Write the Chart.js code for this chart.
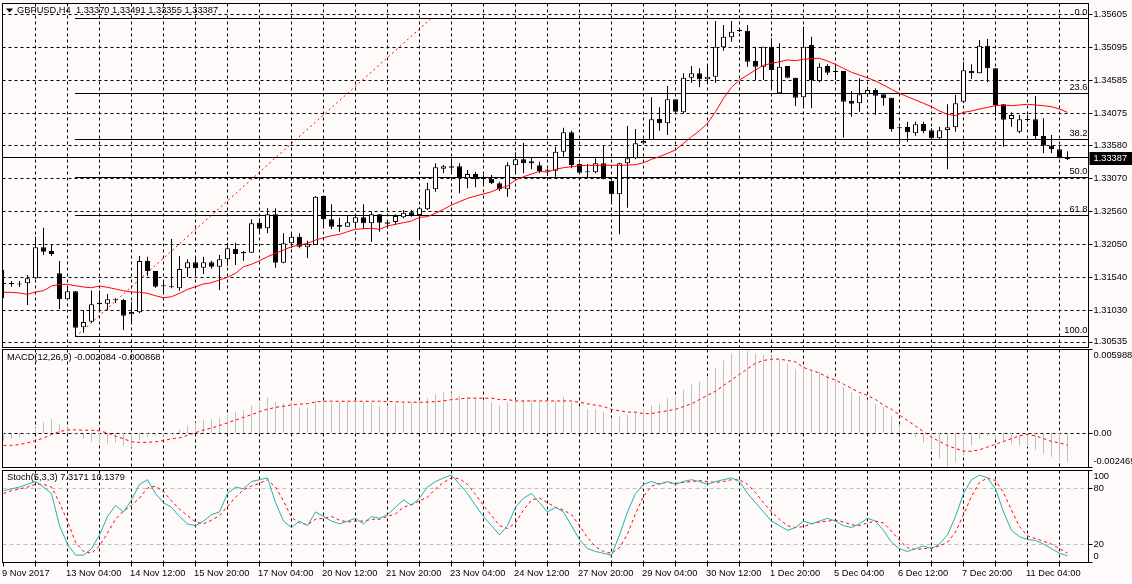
<!DOCTYPE html>
<html>
<head>
<meta charset="utf-8">
<script src="https://cdn.jsdelivr.net/npm/chart.js@4.4.1/dist/chart.umd.min.js"></script>
<style>
  html, body { margin: 0; padding: 0; background: #fffafa; }
  #wrap { position: relative; width: 1132px; height: 584px; overflow: hidden; background: #fffafa; }
  #wrap canvas { position: absolute; left: 0; }
</style>
</head>
<body>
<div id="wrap">
  <canvas id="price" width="1132" height="348" style="top:0"></canvas>
  <canvas id="macd" width="1132" height="124" style="top:346px"></canvas>
  <canvas id="stoch" width="1132" height="116" style="top:468px"></canvas>
</div>
<script>
// GBPUSD H4, one entry per bar (9 Nov 20:00 .. 12 Dec 00:00)
const openP = [
  1.31457,1.31446,1.31441,1.31452,1.31529,1.32008,1.31951,1.31606,1.31205,1.31328,
  1.30772,1.30859,1.31152,1.31137,1.31205,1.31194,1.30973,1.31004,1.31796,1.31642,
  1.31415,1.31390,1.31375,1.31683,1.31776,1.31693,1.31776,1.31708,1.31822,1.31981,
  1.31935,1.31924,1.32388,1.32301,1.32517,1.31770,1.32069,1.32171,1.32008,1.32043,
  1.32800,1.32440,1.32352,1.32326,1.32388,1.32471,1.32378,1.32517,1.32394,1.32398,
  1.32471,1.32548,1.32506,1.32594,1.32903,1.33221,1.33258,1.33258,1.33073,1.33139,
  1.33067,1.33067,1.32996,1.32903,1.33274,1.33366,1.33305,1.33274,1.33201,1.33190,
  1.33484,1.33783,1.33294,1.33171,1.33165,1.33305,1.33036,1.32826,1.33305,1.33382,
  1.33613,1.33664,1.33989,1.33922,1.34293,1.34092,1.34626,1.34694,1.34602,1.34642,
  1.35096,1.35250,1.35358,1.35352,1.34884,1.34796,1.35105,1.34385,1.34807,1.34626,
  1.34324,1.35131,1.34575,1.34807,1.34719,1.34730,1.34267,1.34231,1.34370,1.34436,
  1.34370,1.34317,1.33845,1.33865,1.33768,1.33911,1.33814,1.33691,1.33819,1.33860,
  1.34256,1.34730,1.34694,1.35120,1.34771,1.34216,1.33989,1.33793,1.33978,1.33984,
  1.33726,1.33576,1.33521,1.33370
];
const highP = [
  1.31657,1.31487,1.31487,1.31580,1.32172,1.32310,1.32043,1.31796,1.31375,1.31333,
  1.31040,1.31342,1.31342,1.31287,1.31220,1.31209,1.31168,1.31873,1.31862,1.31642,
  1.31467,1.32136,1.31873,1.31822,1.31862,1.31862,1.31801,1.31889,1.32079,1.32079,
  1.31950,1.32440,1.32455,1.32610,1.32610,1.32224,1.32224,1.32224,1.32110,1.32800,
  1.32800,1.32672,1.32465,1.32491,1.32491,1.32672,1.32557,1.32517,1.32429,1.32517,
  1.32584,1.32584,1.32635,1.33005,1.33305,1.33278,1.33382,1.33305,1.33201,1.33175,
  1.33124,1.33124,1.33020,1.33320,1.33474,1.33623,1.33391,1.33330,1.33221,1.33561,
  1.33854,1.33808,1.33305,1.33294,1.33382,1.33587,1.33036,1.33314,1.33881,1.33834,
  1.33664,1.34324,1.34169,1.34498,1.34293,1.34694,1.34807,1.34771,1.34838,1.35502,
  1.35440,1.35502,1.35363,1.35440,1.35105,1.35105,1.35235,1.35157,1.34807,1.34626,
  1.35414,1.35259,1.34849,1.34833,1.34812,1.34730,1.34421,1.34617,1.34487,1.34463,
  1.34370,1.34317,1.33870,1.33947,1.33947,1.33947,1.33845,1.33870,1.34216,1.34359,
  1.34873,1.34833,1.35208,1.35224,1.34771,1.34216,1.34092,1.34050,1.34050,1.34344,
  1.34000,1.33742,1.33576,1.33491
];
const lowP = [
  1.31225,1.31400,1.31395,1.31117,1.31518,1.31889,1.31873,1.31055,1.31194,1.30627,
  1.30689,1.30839,1.31040,1.31040,1.31148,1.30731,1.30850,1.30989,1.31565,1.31384,
  1.31307,1.31375,1.31338,1.31549,1.31591,1.31596,1.31677,1.31348,1.31724,1.31734,
  1.31801,1.31924,1.32224,1.32224,1.31693,1.31761,1.31992,1.31992,1.31842,1.32043,
  1.32306,1.32290,1.32249,1.32326,1.32301,1.32290,1.32094,1.32249,1.32326,1.32352,
  1.32455,1.32480,1.32147,1.32584,1.32866,1.33150,1.33175,1.32841,1.32919,1.32934,
  1.32985,1.32985,1.32877,1.32789,1.33139,1.33150,1.33212,1.33150,1.33109,1.33098,
  1.33407,1.33227,1.33150,1.33082,1.33150,1.33058,1.32696,1.32208,1.32619,1.33366,
  1.33603,1.33664,1.33808,1.33742,1.34066,1.34077,1.34549,1.34478,1.34529,1.34549,
  1.35043,1.35182,1.35332,1.34796,1.34591,1.34591,1.34463,1.34385,1.34617,1.34189,
  1.34179,1.34154,1.34555,1.34668,1.34591,1.33700,1.34024,1.34101,1.34333,1.34050,
  1.34194,1.33793,1.33638,1.33638,1.33731,1.33768,1.33664,1.33680,1.33212,1.33793,
  1.34231,1.34606,1.34694,1.34555,1.34040,1.33561,1.33870,1.33768,1.33947,1.33664,
  1.33459,1.33459,1.33382,1.33355
];
const closeP = [
  1.31441,1.31440,1.31435,1.31529,1.32008,1.31940,1.31904,1.31205,1.31328,1.30766,
  1.30854,1.31128,1.31128,1.31205,1.31190,1.30952,1.31009,1.31796,1.31642,1.31400,
  1.31406,1.31400,1.31673,1.31776,1.31683,1.31776,1.31708,1.31822,1.31992,1.31904,
  1.31915,1.32378,1.32295,1.32517,1.31770,1.32069,1.32171,1.32017,1.32054,1.32789,
  1.32440,1.32326,1.32326,1.32394,1.32471,1.32378,1.32517,1.32388,1.32372,1.32491,
  1.32542,1.32506,1.32610,1.32903,1.33243,1.33258,1.33237,1.33073,1.33139,1.33058,
  1.33062,1.32996,1.32903,1.33274,1.33366,1.33305,1.33335,1.33186,1.33190,1.33484,
  1.33783,1.33278,1.33160,1.33165,1.33305,1.33058,1.32826,1.33305,1.33382,1.33613,
  1.33649,1.33984,1.33922,1.34293,1.34101,1.34626,1.34694,1.34602,1.34642,1.35105,
  1.35259,1.35337,1.35347,1.34873,1.34796,1.35105,1.34745,1.34796,1.34626,1.34317,
  1.35105,1.34591,1.34796,1.34703,1.34714,1.34256,1.34225,1.34370,1.34436,1.34348,
  1.34308,1.33834,1.33854,1.33783,1.33907,1.33803,1.33691,1.33814,1.33860,1.34231,
  1.34741,1.34694,1.35120,1.34771,1.34205,1.33978,1.34050,1.33984,1.33973,1.33726,
  1.33576,1.33521,1.33382,1.33387
];
// red moving average on the price window
const maLine = [
  1.31313,1.31313,1.31302,1.31282,1.31318,1.31338,1.31410,1.31436,1.31436,1.31415,
  1.31395,1.31384,1.31410,1.31390,1.31364,1.31338,1.31318,1.31313,1.31297,1.31260,
  1.31230,1.31245,1.31297,1.31359,1.31399,1.31441,1.31461,1.31503,1.31545,1.31606,
  1.31708,1.31745,1.31801,1.31863,1.31915,1.31966,1.32017,1.32043,1.32069,1.32120,
  1.32156,1.32187,1.32208,1.32249,1.32286,1.32295,1.32301,1.32286,1.32337,1.32363,
  1.32388,1.32414,1.32471,1.32480,1.32533,1.32594,1.32661,1.32712,1.32764,1.32800,
  1.32831,1.32866,1.32919,1.32954,1.33047,1.33098,1.33139,1.33181,1.33170,1.33212,
  1.33237,1.33252,1.33268,1.33274,1.33274,1.33274,1.33274,1.33274,1.33278,1.33283,
  1.33314,1.33366,1.33407,1.33459,1.33510,1.33613,1.33715,1.33808,1.33922,1.34101,
  1.34308,1.34478,1.34591,1.34668,1.34745,1.34818,1.34849,1.34873,1.34900,1.34889,
  1.34910,1.34923,1.34926,1.34884,1.34833,1.34771,1.34710,1.34668,1.34626,1.34575,
  1.34514,1.34447,1.34385,1.34333,1.34282,1.34231,1.34179,1.34112,1.34061,1.34040,
  1.34092,1.34112,1.34143,1.34169,1.34194,1.34205,1.34194,1.34205,1.34216,1.34205,
  1.34194,1.34179,1.34143,1.34092
];
const macdHist = [
  -0.00057,-0.00041,-0.00029,-0.0001,0.00036,0.00078,0.00101,0.00062,0.00036,-0.00016,
  -0.00041,-0.00062,-0.00075,-0.00075,-0.0007,-0.00088,-0.00104,-0.00049,-0.0003,-0.0002,
  -0.0002,-0.0001,0.00026,0.00054,0.00073,0.00093,0.00099,0.00109,0.00135,0.0015,
  0.00161,0.00197,0.00218,0.00254,0.00223,0.0021,0.0021,0.00184,0.00184,0.00228,
  0.00223,0.00218,0.00223,0.00223,0.00218,0.00223,0.00218,0.00197,0.0020,0.0021,
  0.0022,0.0022,0.0022,0.0025,0.0028,0.0029,0.0029,0.0027,0.0026,0.0025,
  0.0024,0.0022,0.0020,0.0022,0.0024,0.0024,0.0024,0.0022,0.0021,0.0023,
  0.0026,0.0022,0.0019,0.0017,0.0017,0.0015,0.0011,0.0012,0.0013,0.0015,
  0.0017,0.0020,0.0021,0.0025,0.0026,0.0031,0.0035,0.0037,0.0041,0.0047,
  0.0052,0.0057,0.005988,0.0059,0.0057,0.0056,0.0055,0.0053,0.0050,0.0046,
  0.0048,0.0045,0.0044,0.0042,0.0039,0.0033,0.0029,0.0027,0.0024,0.0021,
  0.0019,0.0012,0.0006,0.0001,-0.0003,-0.0007,-0.0011,-0.0018,-0.002469,-0.0021,
  -0.0015,-0.0009,-0.0004,-0.0002,-0.0004,-0.0007,-0.0008,-0.0009,-0.0010,-0.0012,
  -0.0015,-0.0017,-0.0020,-0.002084
];
const macdSignal = [
  -0.00088,-0.00088,-0.00083,-0.0007,-0.00054,-0.00036,-0.0001,0.0001,0.00023,0.00023,
  0.0002,0.0002,0.00016,0.0,-0.00023,-0.00041,-0.00062,-0.00067,-0.00067,-0.00062,
  -0.00054,-0.00041,-0.00034,-0.00016,0.00003,0.00021,0.00036,0.00054,0.00073,0.00093,
  0.00112,0.00132,0.00153,0.00171,0.00184,0.00192,0.00202,0.00207,0.0021,0.00223,
  0.00228,0.00228,0.00228,0.00228,0.00228,0.00228,0.00228,0.00228,0.00226,0.00224,
  0.00222,0.00221,0.0022,0.00222,0.00225,0.0023,0.0024,0.00245,0.0025,0.0025,
  0.0025,0.0025,0.0024,0.0024,0.0023,0.0023,0.0023,0.0023,0.0023,0.0023,
  0.0023,0.0023,0.0022,0.0021,0.0020,0.0019,0.0017,0.0016,0.0015,0.0015,
  0.0014,0.0014,0.0015,0.0016,0.0017,0.0019,0.0021,0.0024,0.0027,0.0030,
  0.0034,0.0038,0.0042,0.0046,0.0050,0.0052,0.0053,0.0053,0.0052,0.0051,
  0.0047,0.0045,0.0043,0.0040,0.0038,0.0035,0.0032,0.0029,0.0027,0.0024,
  0.0020,0.0017,0.0013,0.0009,0.0005,0.0001,-0.0003,-0.0006,-0.0009,-0.0011,
  -0.0013,-0.0013,-0.0012,-0.0010,-0.0008,-0.0006,-0.0004,-0.0002,-0.0001,-0.0002,
  -0.0004,-0.0006,-0.0007,-0.000868
];
const stochMain = [
  78,80,82,85,88,82,75,40,20,8,
  8,15,30,50,62,55,68,85,90,75,
  65,60,50,42,40,45,52,55,75,82,
  80,88,90,92,65,45,38,45,40,55,
  50,45,42,45,48,42,50,48,52,60,
  68,62,70,82,88,92,95,85,75,62,
  50,40,30,40,60,70,75,65,55,60,
  55,40,25,15,12,10,8,30,55,75,
  85,88,85,88,85,88,90,88,85,88,
  90,92,88,75,65,55,45,40,35,38,
  45,42,45,48,45,40,38,42,48,45,
  35,22,15,12,15,18,15,20,30,50,
  75,90,95,92,80,55,35,28,25,24,
  20,15,10,7.3171
];
const stochSignal = [
  75,78,80,82,85,85,82,65,45,22,
  12,10,18,32,47,56,62,70,81,83,
  77,67,58,51,44,42,46,51,61,71,
  79,83,86,90,82,67,49,43,41,47,
  48,50,46,44,45,45,47,47,50,53,
  60,63,67,71,80,87,92,91,85,74,
  62,51,40,37,43,57,68,70,65,60,
  57,52,40,27,17,12,10,16,31,53,
  72,83,86,87,86,87,88,89,88,87,
  88,90,90,85,76,65,55,47,40,38,
  39,42,44,45,46,44,41,40,43,45,
  43,34,24,16,14,15,16,18,22,33,
  52,72,87,92,89,76,57,39,29,26,
  23,20,15,10.1379
];
// one time label every 8 bars
const dateLabels = [
  '9 Nov 2017','13 Nov 04:00','14 Nov 12:00','15 Nov 20:00','17 Nov 04:00','20 Nov 12:00',
  '21 Nov 20:00','23 Nov 04:00','24 Nov 12:00','27 Nov 20:00','29 Nov 04:00','30 Nov 12:00',
  '1 Dec 20:00','5 Dec 04:00','6 Dec 12:00','7 Dec 20:00','11 Dec 04:00'
];
const priceTicks = [1.35605,1.35095,1.34585,1.34075,1.33580,1.33070,1.32560,1.32050,1.31540,1.31030,1.30535];
const macdTicks = [0.005988, 0, -0.002469];
const stochTicks = [100, 80, 20, 0];
const stochLevels = [80, 20];
// fibonacci retracement drawn on the chart
const fibLevels = [0, 23.6, 38.2, 50, 61.8, 100];
const fibHigh = 1.35545, fibLow = 1.30625;
const fibAnchors = [9, 53.5];

const X_MIN = -0.125, X_MAX = 135.625;
const FONT = '9.3px "Liberation Sans"';
const N = closeP.length;

const snap = (p) => Math.floor(p) + 0.5;
function seg(ctx, x1, y1, x2, y2) {
  ctx.beginPath(); ctx.moveTo(x1, y1); ctx.lineTo(x2, y2); ctx.stroke();
}

function panelPlugin(cfg) {
  return {
    id: 'panel_' + cfg.name,
    beforeDatasetsDraw(chart) {
      const { ctx, chartArea: a } = chart;
      const x = chart.scales.x, y = chart.scales.y;
      ctx.save();
      ctx.beginPath(); ctx.rect(a.left, a.top, a.right - a.left, a.bottom - a.top); ctx.clip();
      ctx.lineWidth = 1;
      ctx.strokeStyle = '#000';
      ctx.setLineDash([3, 3]);
      for (let i = 4; i < X_MAX; i += 4) {
        const px = snap(x.getPixelForValue(i));
        seg(ctx, px, a.top, px, a.bottom);
      }
      (cfg.grid || []).forEach((v) => {
        const py = snap(y.getPixelForValue(v));
        seg(ctx, a.left, py, a.right, py);
      });
      if (cfg.levels) {
        ctx.strokeStyle = '#c0c0c0';
        ctx.setLineDash([4, 3]);
        cfg.levels.forEach((v) => {
          const py = snap(y.getPixelForValue(v));
          seg(ctx, a.left, py, a.right, py);
        });
      }
      if (cfg.fib) {
        ctx.setLineDash([]);
        ctx.strokeStyle = '#000';
        // bid line
        const by = snap(y.getPixelForValue(closeP[N - 1]));
        seg(ctx, a.left, by, a.right, by);
        const fx = Math.floor(x.getPixelForValue(fibAnchors[0]));
        fibLevels.forEach((lv) => {
          const py = snap(y.getPixelForValue(fibHigh - (fibHigh - fibLow) * lv / 100));
          seg(ctx, fx, py, a.right, py);
        });
        ctx.strokeStyle = '#ff0000';
        ctx.setLineDash([2, 3]);
        seg(ctx, x.getPixelForValue(fibAnchors[0]), y.getPixelForValue(fibLow),
                 x.getPixelForValue(fibAnchors[1]), y.getPixelForValue(fibHigh));
      }
      ctx.restore();
    },
    afterDraw(chart) {
      const { ctx, chartArea: a } = chart;
      const x = chart.scales.x, y = chart.scales.y;
      ctx.save();
      ctx.lineWidth = 1;
      ctx.setLineDash([]);
      ctx.strokeStyle = '#000';
      ctx.strokeRect(a.left, a.top, a.right - a.left, a.bottom - a.top);
      ctx.font = FONT;
      ctx.fillStyle = '#000';
      ctx.textBaseline = 'middle';
      ctx.textAlign = 'left';
      // right scale
      cfg.ticks.forEach((t) => {
        const py = y.getPixelForValue(t.v);
        seg(ctx, a.right, snap(py), a.right + 4, snap(py));
        const ty = Math.min(Math.max(py, a.top + 6), a.bottom - 6);
        ctx.fillText(t.text, a.right + 5, ty);
      });
      // window caption
      if (cfg.title) {
        if (cfg.name === 'price') {
          ctx.beginPath(); ctx.moveTo(6, 8.5); ctx.lineTo(13, 8.5); ctx.lineTo(9.5, 12.5); ctx.closePath(); ctx.fill();
        }
        ctx.fillText(cfg.title, cfg.titleX, a.top + cfg.titleDy);
      }
      if (cfg.fib) {
        ctx.textAlign = 'right';
        ctx.textBaseline = 'bottom';
        fibLevels.forEach((lv) => {
          const py = snap(y.getPixelForValue(fibHigh - (fibHigh - fibLow) * lv / 100));
          ctx.fillText(lv.toFixed(1), a.right - 1, py - 1);
        });
        // current price box
        const by = y.getPixelForValue(closeP[N - 1]);
        ctx.fillStyle = '#000';
        ctx.fillRect(a.right + 1, Math.round(by) - 6, 1132 - a.right, 13);
        ctx.fillStyle = '#fff';
        ctx.textAlign = 'left';
        ctx.textBaseline = 'middle';
        ctx.fillText(closeP[N - 1].toFixed(5), a.right + 5, Math.round(by) + 0.5);
      }
      if (cfg.xAxis) {
        ctx.fillStyle = '#000';
        for (let i = 0; i < X_MAX; i += 4) {
          const px = snap(x.getPixelForValue(i));
          seg(ctx, px, a.bottom, px, a.bottom + 4);
        }
        ctx.textAlign = 'left';
        ctx.textBaseline = 'middle';
        dateLabels.forEach((t, k) => ctx.fillText(t, x.getPixelForValue(k * 8) - 1.5, a.bottom + 11));
      }
      ctx.restore();
    }
  };
}

function baseOptions(yMin, yMax, padding) {
  return {
    responsive: false,
    animation: false,
    events: [],
    layout: { padding },
    plugins: { legend: { display: false }, tooltip: { enabled: false } },
    scales: {
      x: { type: 'linear', min: X_MIN, max: X_MAX, offset: false, display: false },
      y: { type: 'linear', min: yMin, max: yMax, display: false }
    }
  };
}

const bars = closeP.map((_, i) => i);
const isBull = closeP.map((c, i) => c > openP[i]);
const last = (arr) => arr[arr.length - 1];

// price window
new Chart(document.getElementById('price'), {
  type: 'bar',
  data: {
    datasets: [
      {
        type: 'line',
        data: bars.map((i) => ({ x: i, y: maLine[i] })),
        borderColor: '#ff0000', borderWidth: 1, pointRadius: 0, tension: 0, order: 0
      },
      {
        data: bars.map((i) => ({ x: i, y: [openP[i], closeP[i]] })),
        backgroundColor: isBull.map((b) => (b ? '#ffffff' : '#000000')),
        borderColor: '#000000', borderWidth: 1, borderSkipped: false,
        barThickness: 5, minBarLength: 1, grouped: false, inflateAmount: 0, order: 1
      },
      {
        data: bars.map((i) => ({ x: i, y: [lowP[i], highP[i]] })),
        backgroundColor: '#000000', borderWidth: 0,
        barThickness: 1, grouped: false, inflateAmount: 0, order: 2
      }
    ]
  },
  options: baseOptions(1.30461, 1.35772, { left: 2.5, right: 43.5, top: 3.5, bottom: 0.5 }),
  plugins: [panelPlugin({
    name: 'price',
    grid: priceTicks,
    ticks: priceTicks.map((v) => ({ v, text: v.toFixed(5) })),
    fib: true,
    title: 'GBPUSD,H4  ' + [last(openP), last(highP), last(lowP), last(closeP)].map((v) => v.toFixed(5)).join(' '),
    titleX: 17, titleDy: 7
  })]
});

// MACD window
new Chart(document.getElementById('macd'), {
  type: 'bar',
  data: {
    datasets: [
      {
        type: 'line',
        data: bars.map((i) => ({ x: i, y: macdSignal[i] })),
        borderColor: '#ff0000', borderWidth: 1, borderDash: [3, 3], pointRadius: 0, tension: 0, order: 0
      },
      {
        data: bars.map((i) => ({ x: i, y: [0, macdHist[i]] })),
        backgroundColor: '#c0c0c0', borderWidth: 0,
        barThickness: 1, grouped: false, inflateAmount: 0, order: 1
      }
    ]
  },
  options: baseOptions(macdTicks[2], macdTicks[0], { left: 2.5, right: 43.5, top: 3.5, bottom: 2.5 }),
  plugins: [panelPlugin({
    name: 'macd',
    grid: [0],
    ticks: macdTicks.map((v) => ({ v, text: v === 0 ? '0.00' : v.toFixed(6) })),
    title: 'MACD(12,26,9) ' + last(macdHist).toFixed(6) + ' ' + last(macdSignal).toFixed(6),
    titleX: 7, titleDy: 8
  })]
});

// Stochastic window
new Chart(document.getElementById('stoch'), {
  type: 'line',
  data: {
    datasets: [
      {
        data: bars.map((i) => ({ x: i, y: stochSignal[i] })),
        borderColor: '#ff0000', borderWidth: 1, borderDash: [3, 3], pointRadius: 0, tension: 0, order: 1
      },
      {
        data: bars.map((i) => ({ x: i, y: stochMain[i] })),
        borderColor: '#20b2aa', borderWidth: 1, pointRadius: 0, tension: 0, order: 0
      }
    ]
  },
  options: baseOptions(0, 100, { left: 2.5, right: 43.5, top: 2.5, bottom: 21.5 }),
  plugins: [panelPlugin({
    name: 'stoch',
    grid: [],
    levels: stochLevels,
    ticks: stochTicks.map((v) => ({ v, text: String(v) })),
    title: 'Stoch(5,3,3) ' + last(stochMain).toFixed(4) + ' ' + last(stochSignal).toFixed(4),
    titleX: 7, titleDy: 7,
    xAxis: true
  })]
});
</script>
</body>
</html>
